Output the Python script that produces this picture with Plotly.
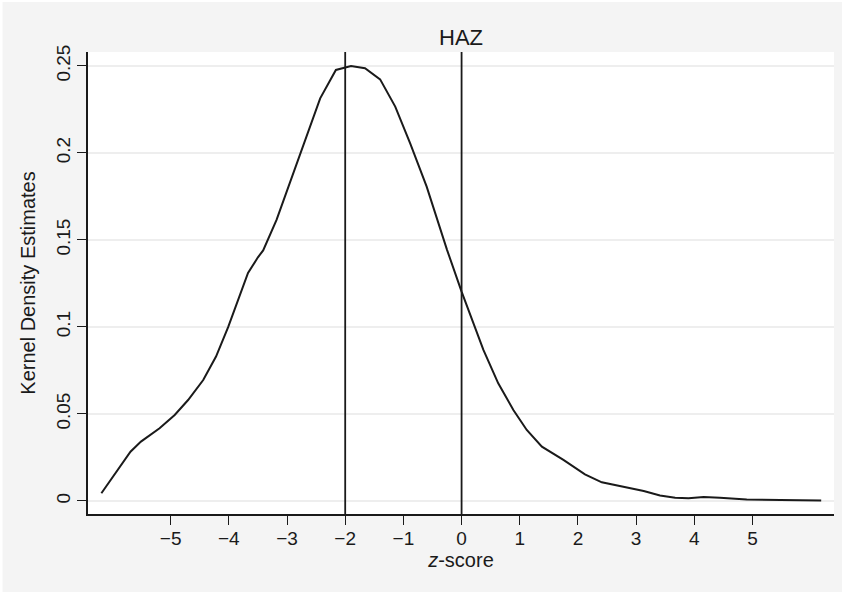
import plotly.graph_objects as go

# ---- data ----
z_score = [-6.19, -5.69, -5.51, -5.19, -4.93, -4.70, -4.44, -4.22, -4.01, -3.84,
           -3.67, -3.50, -3.41, -3.18, -2.95, -2.72, -2.43, -2.16, -1.90, -1.66,
           -1.40, -1.14, -0.885, -0.60, -0.25, 0.0, 0.375, 0.63, 0.89, 1.12,
           1.38, 1.75, 2.12, 2.41, 3.13, 3.41, 3.67, 3.90, 4.16, 4.44,
           4.90, 5.48, 5.82, 6.18]
density = [0.0044, 0.0283, 0.0341, 0.0418, 0.0494, 0.058, 0.0695, 0.083, 0.100, 0.1155,
           0.131, 0.140, 0.144, 0.1615, 0.1826, 0.2036, 0.2314, 0.2477, 0.250, 0.2487,
           0.2423, 0.2266, 0.2056, 0.1806, 0.1443, 0.1203, 0.0868, 0.0676, 0.0523, 0.0408,
           0.0312, 0.0236, 0.0153, 0.0107, 0.0057, 0.0031, 0.0019, 0.0015, 0.0023, 0.0019,
           0.0008, 0.0006, 0.0006, 0.0002]
reference_lines = [-2, 0]

x_tick_vals = [-5, -4, -3, -2, -1, 0, 1, 2, 3, 4, 5]
x_tick_text = ["\u22125", "\u22124", "\u22123", "\u22122", "\u22121", "0", "1", "2", "3", "4", "5"]
y_tick_vals = [0, 0.05, 0.1, 0.15, 0.2, 0.25]
y_tick_text = ["0", "0.05", "0.1", "0.15", "0.2", "0.25"]

title_text = "HAZ"
x_title = "<i>z</i>-score"
y_title = "Kernel Density Estimates"

FONT = "Liberation Sans, Arial, Helvetica, sans-serif"
INK = "#1a1a1a"

fig = go.Figure()
fig.add_trace(go.Scatter(x=z_score, y=density, mode="lines",
                         line=dict(color=INK, width=2), showlegend=False,
                         hoverinfo="x+y"))

for xv in reference_lines:
    fig.add_shape(type="line", xref="x", yref="paper", x0=xv, x1=xv, y0=0, y1=1,
                  line=dict(color=INK, width=1.8), layer="above")

# thin white frame around the page like the reference
W, H = 844, 594
L, R, T, B = 88, 10, 52, 80
pw, ph = W - L - R, H - T - B
def px(xp):
    return (xp - L) / pw
def py(yp):
    return (H - B - yp) / ph
fig.add_shape(type="rect", xref="paper", yref="paper",
              x0=px(1), x1=px(W - 0.5), y0=py(0.5), y1=py(H - 0.5),
              line=dict(color="white", width=3), fillcolor="rgba(0,0,0,0)", layer="above")

fig.update_layout(
    width=W, height=H,
    margin=dict(l=L, r=R, t=T, b=B, pad=0),
    paper_bgcolor="#f4f4f4",
    plot_bgcolor="white",
    font=dict(family=FONT, color=INK, size=19),
    title=dict(text=title_text, x=(L + pw / 2) / W, xanchor="center",
               y=1 - 37 / H, yanchor="middle", font=dict(size=22, family=FONT, color=INK)),
    showlegend=False,
)
fig.update_xaxes(
    range=[-6.42, 6.40], tickmode="array", tickvals=x_tick_vals, ticktext=x_tick_text,
    showline=True, linecolor=INK, linewidth=1.5, mirror=False,
    ticks="outside", ticklen=9, tickwidth=1.3, tickcolor=INK,
    showgrid=False, zeroline=False,
    tickfont=dict(size=19, family=FONT, color=INK),
    ticklabelstandoff=-3,
    title=dict(text=x_title, font=dict(size=20, family=FONT, color=INK), standoff=2),
)
fig.update_yaxes(
    range=[-0.0075, 0.258], tickmode="array", tickvals=y_tick_vals, ticktext=y_tick_text,
    showline=True, linecolor=INK, linewidth=1.5, mirror=False,
    ticks="outside", ticklen=9, tickwidth=1.3, tickcolor=INK,
    showgrid=True, gridcolor="#eeeeee", gridwidth=1.5, zeroline=False,
    tickangle=-90,
    tickfont=dict(size=19, family=FONT, color=INK),
    title=dict(text=y_title, font=dict(size=20, family=FONT, color=INK), standoff=12),
)

fig.write_html("out.html", config={"displayModeBar": False},
               post_script="document.body.style.margin='0';")
